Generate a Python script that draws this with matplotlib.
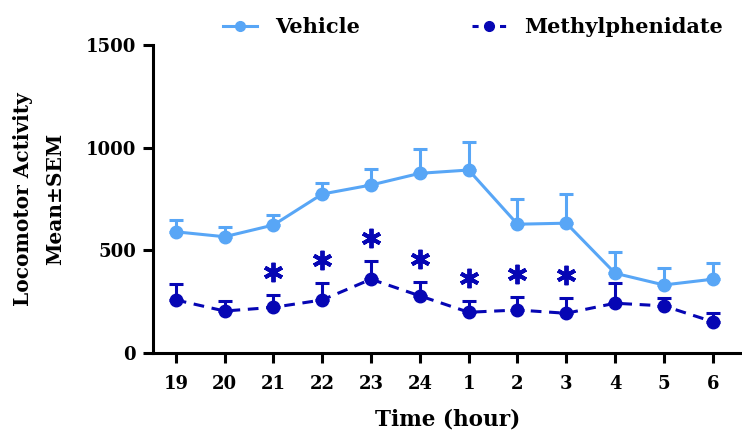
import matplotlib
matplotlib.use("Agg")
import matplotlib.pyplot as plt
import matplotlib.transforms as mtransforms
from matplotlib.lines import Line2D
import numpy as np

hours = ["19", "20", "21", "22", "23", "24", "1", "2", "3", "4", "5", "6"]
vehicle_mean = [590, 566, 623, 774, 818, 875, 891, 627, 632, 388, 331, 359]
vehicle_sem = [58, 46, 49, 55, 76, 118, 135, 123, 142, 102, 81, 81]
mph_mean = [258, 204, 222, 258, 359, 278, 198, 209, 193, 242, 229, 152]
mph_sem = [78, 49, 62, 81, 87, 69, 55, 65, 73, 100, 37, 44]
significant = [False, False, True, True, True, True, True, True, True, False, False, False]

c_veh = "#58A6F6"
c_mph = "#0606B4"

plt.rcParams['font.family'] = ['DejaVu Serif']
plt.rcParams['font.weight'] = 'bold'

fig = plt.figure(figsize=(7.42, 4.33), dpi=100)
ax = fig.add_axes([0.206, 0.185, 0.794, 0.711])

x = np.arange(len(hours))
z = np.zeros(len(hours))

ax.errorbar(x, vehicle_mean, yerr=[z, vehicle_sem], color=c_veh, lw=2.2,
            marker='o', ms=9, capsize=5, capthick=2.2, elinewidth=2.2)
ax.errorbar(x, mph_mean, yerr=[z, mph_sem], color=c_mph, lw=2.2,
            marker='o', ms=9, capsize=5, capthick=2.2, elinewidth=2.2,
            ls=(0, (3.5, 2.5)))

sx = [xi for xi, s in zip(x, significant) if s]
sy = [m + s for m, s, sig in zip(mph_mean, mph_sem, significant) if sig]
star_tr = mtransforms.offset_copy(ax.transData, fig=fig, x=0, y=16.5, units='points')
ax.plot(sx, sy, ls='none', marker=(6, 2, 0), ms=14, mew=2.8, color=c_mph,
        transform=star_tr, clip_on=False)

ax.set_xlim(-0.47, 11.6)
ax.set_ylim(0, 1500)
ax.set_yticks([0, 500, 1000, 1500])
ax.set_xticks(x)
ax.set_xticklabels(hours)

for sp in ['top', 'right']:
    ax.spines[sp].set_visible(False)
for sp in ['left', 'bottom']:
    ax.spines[sp].set_linewidth(2.2)

ax.tick_params(axis='both', width=2.2, length=7, labelsize=13)
ax.tick_params(axis='x', pad=9)
ax.tick_params(axis='y', pad=5)
for lab in ax.get_xticklabels() + ax.get_yticklabels():
    lab.set_fontweight('bold')

ax.set_xlabel('Time (hour)', fontsize=15.5, fontweight='bold', labelpad=11)
ax.set_ylabel('Locomotor Activity\nMean±SEM', fontsize=14.5, fontweight='bold',
              labelpad=15, linespacing=1.75)

handles = [
    Line2D([], [], color=c_veh, lw=2.2, marker='o', ms=7),
    Line2D([], [], color=c_mph, lw=2.2, marker='o', ms=7, ls=(0, (2.0, 2.5))),
]
leg = ax.legend(handles, ['Vehicle', 'Methylphenidate'], loc='center',
                bbox_to_anchor=(0.543, 1.058), ncol=2, frameon=False,
                columnspacing=5.4, handlelength=1.65, handletextpad=0.85,
                borderpad=0, prop={'weight': 'bold', 'size': 15})

fig.savefig('out.png', dpi=100)
